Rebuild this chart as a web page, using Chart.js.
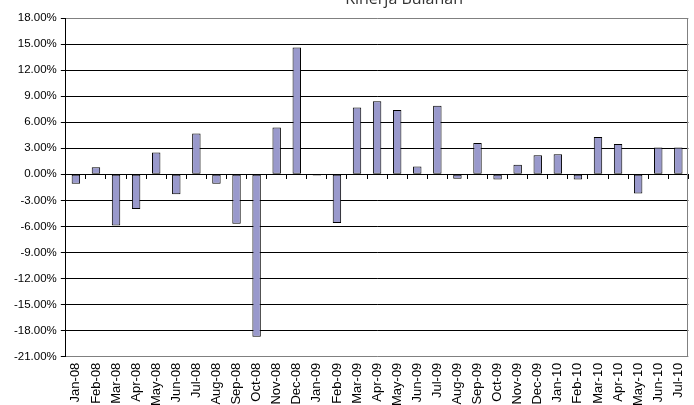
<!DOCTYPE html>
<html>
<head>
<meta charset="utf-8">
<script src="https://cdn.jsdelivr.net/npm/chart.js@4"></script>
<style>
html,body{margin:0;padding:0;background:#fff;overflow:hidden;width:694px;height:405px;}
#wrap{position:absolute;left:0;top:0;width:694px;height:406px;}
</style>
</head>
<body>
<div id="wrap"><canvas id="c"></canvas></div>
<script>
const titleText = "Kinerja Bulanan";
const categories = ["Jan-08","Feb-08","Mar-08","Apr-08","May-08","Jun-08","Jul-08","Aug-08","Sep-08","Oct-08","Nov-08","Dec-08",
  "Jan-09","Feb-09","Mar-09","Apr-09","May-09","Jun-09","Jul-09","Aug-09","Sep-09","Oct-09","Nov-09","Dec-09",
  "Jan-10","Feb-10","Mar-10","Apr-10","May-10","Jun-10","Jul-10"];
const monthlyReturn = [-1.1, 0.8, -5.9, -4.0, 2.5, -2.3, 4.7, -1.1, -5.7, -18.7, 5.4, 14.6,
  -0.15, -5.6, 7.7, 8.4, 7.4, 0.9, 7.9, -0.5, 3.6, -0.6, 1.1, 2.2,
  2.3, -0.6, 4.3, 3.5, -2.2, 3.1, 3.1];
const yMin = -21, yMax = 18, yStep = 3;

const decorPlugin = {
  id: 'decor',
  afterDatasetsDraw(chart) {
    const ctx = chart.ctx, a = chart.chartArea;
    ctx.save();
    ctx.strokeStyle = '#808080';
    ctx.lineWidth = 1;
    ctx.beginPath();
    ctx.moveTo(Math.round(a.right) - 0.5, a.top);
    ctx.lineTo(Math.round(a.right) - 0.5, a.bottom);
    ctx.stroke();
    ctx.restore();
  },
  afterDraw(chart) {
    const ctx = chart.ctx, a = chart.chartArea;
    ctx.save();
    ctx.font = '16px "Open Sans"';
    ctx.fillStyle = '#333';
    ctx.textAlign = 'center';
    ctx.textBaseline = 'alphabetic';
    ctx.fillText(titleText, (a.left + a.right) / 2 + 27, a.top - 14);
    ctx.restore();
  }
};

new Chart(document.getElementById('c'), {
  type: 'bar',
  data: {
    labels: categories,
    datasets: [{
      data: monthlyReturn,
      backgroundColor: '#9999CC',
      borderColor: '#000',
      borderWidth: 1,
      borderSkipped: false,
      barPercentage: 0.42,
      categoryPercentage: 1.0,
      xAxisID: 'x',
      yAxisID: 'y'
    }]
  },
  options: {
    responsive: true,
    maintainAspectRatio: false,
    animation: false,
    layout: { padding: { left: 10, right: 5, top: 18, bottom: 0 } },
    plugins: { legend: { display: false }, tooltip: { enabled: false }, title: { display: false } },
    scales: {
      x: {
        position: 'bottom',
        grid: { display: true, drawOnChartArea: false, drawTicks: true, tickLength: 6, tickColor: 'rgba(0,0,0,0)' },
        border: { display: false },
        ticks: {
          maxRotation: 90, minRotation: 90, autoSkip: false, padding: 0,
          color: '#000', font: { family: '"Liberation Sans", Arial, sans-serif', size: 13 }
        }
      },
      x2: {
        type: 'category',
        labels: categories,
        position: { y: 0 },
        offset: true,
        grid: { drawOnChartArea: false, drawTicks: true, tickLength: 4, color: '#000', offset: true },
        border: { display: true, color: '#000', width: 1 },
        ticks: { display: false }
      },
      y: {
        position: 'left',
        min: yMin, max: yMax,
        grid: {
          color: (c) => (c.tick && (c.tick.value === yMax || c.tick.value === yMin)) ? '#808080' : '#000',
          tickColor: '#000',
          tickLength: 5,
          lineWidth: 1
        },
        border: { display: true, color: '#000', width: 1 },
        ticks: {
          stepSize: yStep,
          padding: 4,
          color: '#000',
          font: { family: '"Liberation Sans", Arial, sans-serif', size: 11.5 },
          callback: (v) => v.toFixed(2) + '%'
        }
      }
    }
  },
  plugins: [decorPlugin]
});
</script>
</body>
</html>
